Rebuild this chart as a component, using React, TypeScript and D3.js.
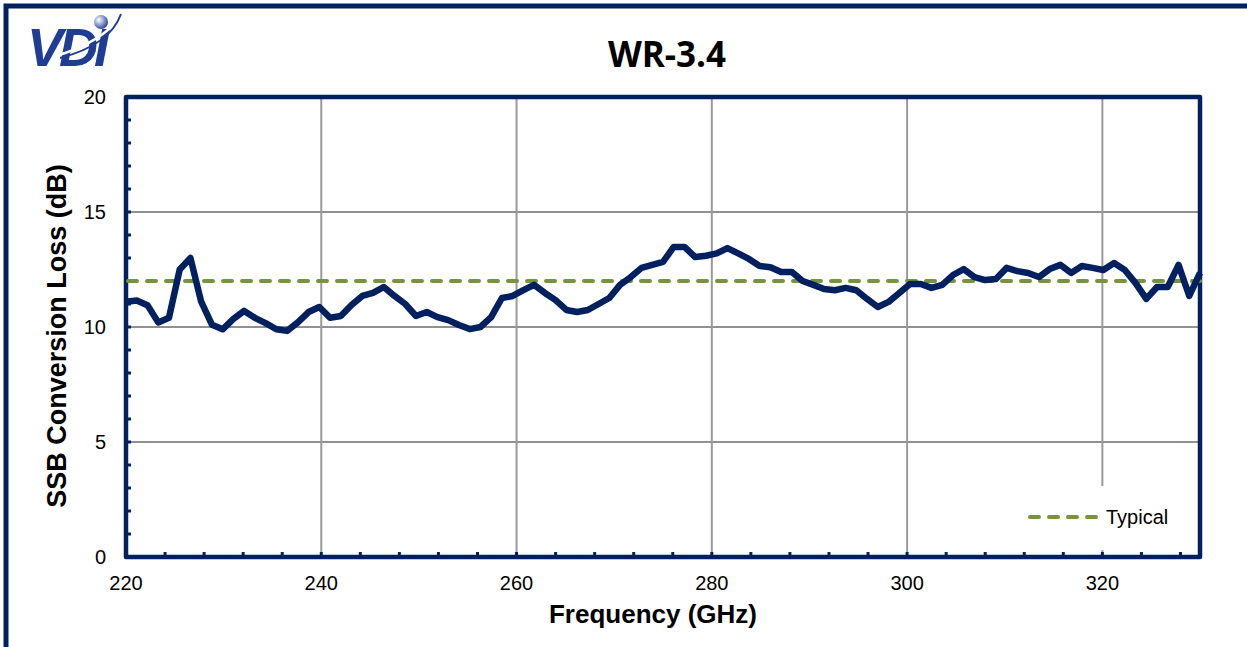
import * as d3 from 'd3'

const freqs = [
  220, 221.1, 222.2, 223.3, 224.4, 225.5, 226.6, 227.7, 228.8, 229.9,
  231, 232.1, 233.2, 234.3, 235.4, 236.5, 237.6, 238.7, 239.8, 240.9,
  242, 243.1, 244.2, 245.3, 246.4, 247.5, 248.6, 249.7, 250.8, 251.9,
  253, 254.1, 255.2, 256.3, 257.4, 258.5, 259.6, 260.7, 261.8, 262.9,
  264, 265.1, 266.2, 267.3, 268.4, 269.5, 270.6, 271.7, 272.8, 273.9,
  275, 276.1, 277.2, 278.3, 279.4, 280.5, 281.6, 282.7, 283.8, 284.9,
  286, 287.1, 288.2, 289.3, 290.4, 291.5, 292.6, 293.7, 294.8, 295.9,
  297, 298.1, 299.2, 300.3, 301.4, 302.5, 303.6, 304.7, 305.8, 306.9,
  308, 309.1, 310.2, 311.3, 312.4, 313.5, 314.6, 315.7, 316.8, 317.9,
  319, 320.1, 321.2, 322.3, 323.4, 324.5, 325.6, 326.7, 327.8, 328.9, 330,
]

const loss = [
  11.1, 11.15, 10.95, 10.2, 10.4, 12.5, 13.0, 11.1, 10.1, 9.9,
  10.35, 10.7, 10.4, 10.17, 9.9, 9.83, 10.2, 10.65, 10.87, 10.4,
  10.48, 10.96, 11.35, 11.48, 11.74, 11.35, 11.0, 10.48, 10.65, 10.43,
  10.3, 10.09, 9.91, 10.0, 10.43, 11.26, 11.35, 11.6, 11.83, 11.48,
  11.17, 10.74, 10.65, 10.74, 11.0, 11.26, 11.83, 12.17, 12.57, 12.7,
  12.83, 13.48, 13.48, 13.04, 13.1, 13.2, 13.43, 13.2, 12.96, 12.65,
  12.6, 12.39, 12.39, 12.0, 11.83, 11.65, 11.6, 11.7, 11.6, 11.22,
  10.87, 11.09, 11.48, 11.87, 11.87, 11.7, 11.83, 12.26, 12.52, 12.17,
  12.04, 12.09, 12.57, 12.43, 12.35, 12.17, 12.52, 12.7, 12.35, 12.65,
  12.57, 12.48, 12.78, 12.48, 11.91, 11.22, 11.74, 11.74, 12.7, 11.35, 12.35,
]

const typical = 12
const xTicks = [220, 240, 260, 280, 300, 320]
const yTicks = [0, 5, 10, 15, 20]

const W = 1247
const H = 647
const navy = '#002060'
const green = '#77933C'
const plot = { left: 126, right: 1200, top: 97, bottom: 557 }

export default function App() {
  const x = d3.scaleLinear().domain([220, 330]).range([plot.left, plot.right])
  const y = d3.scaleLinear().domain([0, 20]).range([plot.bottom, plot.top])

  const pts: [number, number][] = freqs.map((f, i) => [f, loss[i]])
  const line = d3.line<[number, number]>()
    .x(d => x(d[0]))
    .y(d => y(d[1]))

  const xMinor = d3.range(220, 330.01, 4)
  const yMinor = d3.range(0, 20.01, 1)

  return (
    <svg width={W} height={H} style={{ position: 'absolute', left: 0, top: 0, background: '#fff' }}>
      {/* outer frame */}
      <rect x={6} y={6} width={W + 20} height={H + 20} fill="none" stroke={navy} strokeWidth={5} />

      {/* logo */}
      <g>
        <defs>
          <radialGradient id="ball" cx="0.35" cy="0.35" r="0.7">
            <stop offset="0%" stopColor="#ffffff" />
            <stop offset="60%" stopColor="#7b8fc8" />
            <stop offset="100%" stopColor="#2c3f8c" />
          </radialGradient>
        </defs>
        <text x={27} y={66} fontFamily="Liberation Sans, Arial, sans-serif" fontWeight="bold" fontStyle="italic"
          fontSize={54} fill="#1f3d94" letterSpacing={-4}>VDI</text>
        <path d="M 56 56 Q 102 42 120 17" fill="none" stroke="#ffffff" strokeWidth={2.5} />
        <path d="M 60 58 Q 110 45 121 14" fill="none" stroke="#1f3d94" strokeWidth={2} />
        <circle cx={101} cy={22} r={7} fill="url(#ball)" />
      </g>

      {/* title */}
      <text x={667} y={67} textAnchor="middle" fontFamily="Open Sans, sans-serif" fontWeight="bold" fontSize={35}>WR-3.4</text>

      {/* gridlines */}
      {yTicks.filter(t => t > 0 && t < 20).map(t => (
        <line key={'gy' + t} x1={plot.left} x2={plot.right} y1={y(t)} y2={y(t)} stroke="#222" strokeWidth={1} />
      ))}
      {xTicks.filter(t => t > 220).map(t => (
        <line key={'gx' + t} x1={x(t)} x2={x(t)} y1={plot.top} y2={plot.bottom} stroke="#9a9a9a" strokeWidth={2} />
      ))}

      {/* legend box */}
      <rect x={1012} y={486} width={180} height={64} fill="#fff" />

      {/* plot border */}
      <rect x={plot.left} y={plot.top} width={plot.right - plot.left} height={plot.bottom - plot.top}
        fill="none" stroke={navy} strokeWidth={4.5} strokeLinejoin="round" />

      {/* minor ticks */}
      {yMinor.map(t => (
        <line key={'ty' + t} x1={plot.left} x2={plot.left + 5} y1={y(t)} y2={y(t)} stroke={navy} strokeWidth={3} />
      ))}
      {xMinor.map(t => (
        <line key={'tx' + t} x1={x(t)} x2={x(t)} y1={plot.bottom} y2={plot.bottom - 5} stroke={navy} strokeWidth={3} />
      ))}

      {/* typical */}
      <line x1={plot.left + 2} x2={plot.right} y1={y(typical)} y2={y(typical)} stroke={green}
        strokeWidth={4} strokeDasharray="9 10" strokeLinecap="round" />

      {/* measured */}
      <path d={line(pts) ?? ''} fill="none" stroke={navy} strokeWidth={6.5} strokeLinejoin="round" />

      {/* tick labels */}
      {yTicks.map(t => (
        <text key={'ly' + t} x={106} y={y(t)} dy="0.35em" textAnchor="end"
          fontFamily="Liberation Sans, Arial, sans-serif" fontSize={20}>{t}</text>
      ))}
      {xTicks.map(t => (
        <text key={'lx' + t} x={x(t)} y={590} textAnchor="middle"
          fontFamily="Liberation Sans, Arial, sans-serif" fontSize={20}>{t}</text>
      ))}

      {/* axis titles */}
      <text x={653} y={623} textAnchor="middle" fontFamily="Liberation Sans, Arial, sans-serif"
        fontWeight="bold" fontSize={26}>Frequency (GHz)</text>
      <text transform={`translate(66, ${(plot.top + plot.bottom) / 2 + 9}) rotate(-90)`} textAnchor="middle"
        fontFamily="Liberation Sans, Arial, sans-serif" fontWeight="bold" fontSize={27}>SSB Conversion Loss (dB)</text>

      {/* legend */}
      <line x1={1030} x2={1096} y1={517} y2={517} stroke={green} strokeWidth={4}
        strokeDasharray="9 10" strokeLinecap="round" />
      <text x={1106} y={524} fontFamily="Liberation Sans, Arial, sans-serif" fontSize={20}>Typical</text>
    </svg>
  )
}
